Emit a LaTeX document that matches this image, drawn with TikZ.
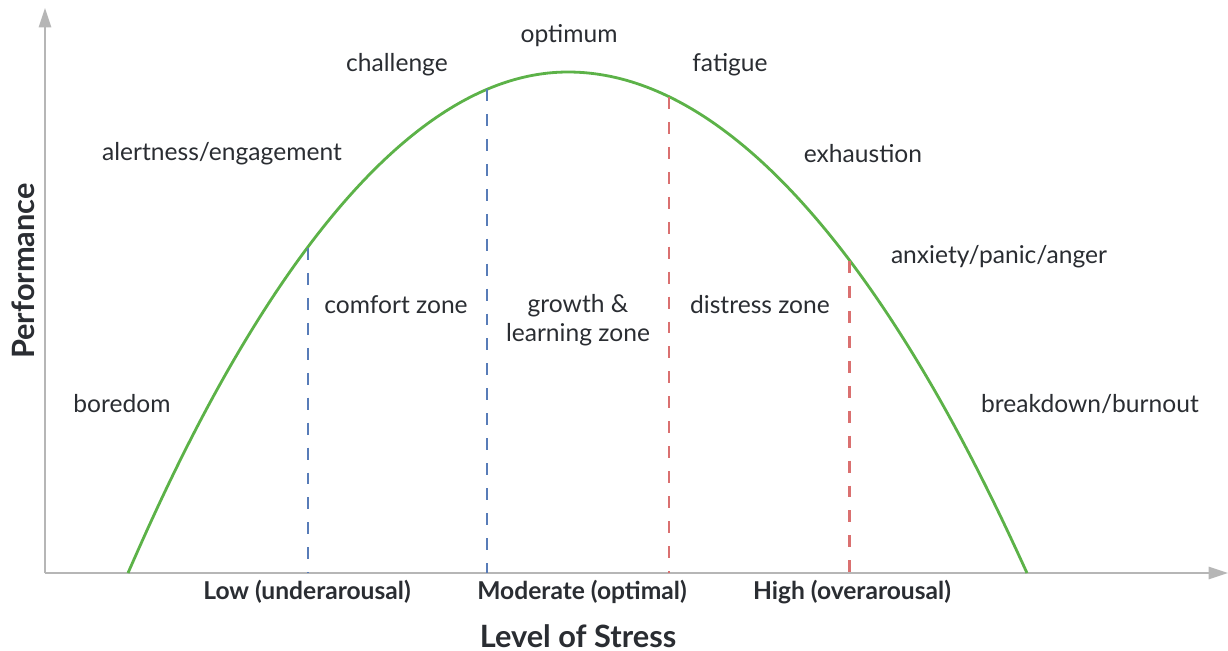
\documentclass[tikz,border=0pt]{standalone}
\usepackage{fontspec}
\setmainfont{Lato}
\usetikzlibrary{arrows.meta}
\definecolor{axisgray}{RGB}{182,182,182}
\definecolor{curvegreen}{RGB}{92,178,72}
\definecolor{lowblue}{RGB}{88,124,184}
\definecolor{highred}{RGB}{218,112,112}
\definecolor{inkdark}{RGB}{42,45,50}

\begin{document}
\begin{tikzpicture}[
x=0.02cm,y=-0.02cm,
axis/.style={
  draw=axisgray,
  line width=1.1pt,
  -{Triangle[length=11pt,width=7pt]}
  },
zoneline/.style={
  line width=1.7pt,
  dash pattern=on 6.8pt off 7.4pt
  },
lbl/.style={text=inkdark,font=\fontsize{14}{16.5}\selectfont,align=center},
ticklbl/.style={text=inkdark,font=\bfseries\fontsize{14}{16}\selectfont},
axislbl/.style={text=inkdark,font=\bfseries\fontsize{17.5}{20}\selectfont,inner sep=0pt}
]
\useasboundingbox (0,0) rectangle (1228,650);
% axes
\coordinate (origin) at (45,573);
\coordinate (ytip) at (45,8);
\coordinate (xtip) at (1228,573);
\draw[axis] (origin) -- (ytip);
\draw[axis] (origin) -- (xtip);
% curve
\coordinate (cstart) at (128,573);
\coordinate (cpeak) at (568,72);
\coordinate (cend) at (1027,573);
\draw[curvegreen,line width=1.6pt] (cstart) parabola bend (cpeak) (cend);
% zone borders
\foreach \Name/\X/\Y/\Col in {low/308/248/lowblue,mid/487/89/lowblue,
                              hot/669/97/highred,over/849/261/highred}{
  \coordinate (\Name top) at (\X,\Y);
  \coordinate (\Name bot) at (\X,573);
  \draw[zoneline,\Col] (\Name top) -- (\Name bot);
}
% labels on the curve
\node[lbl] (optimum) at (569,36) {optimum};
\node[lbl] (challenge) at (397,65) {challenge};
\node[lbl] (fatigue) at (730,65) {fatigue};
\node[lbl] (alert) at (222,154) {alertness/engagement};
\node[lbl] (exhaust) at (863,154) {exhaustion};
\node[lbl] (anxiety) at (999,257) {anxiety/panic/anger};
\node[lbl] (boredom) at (122,404) {boredom};
\node[lbl] (burnout) at (1090,404) {breakdown/burnout};
% zones
\node[lbl] (comfort) at (396,305) {comfort zone};
\node[lbl] (growth) at (578,320) {growth \&\\learning zone};
\node[lbl] (distress) at (760,305) {distress zone};
% axis labels
\node[ticklbl] (low) at (307,592) {Low (underarousal)};
\node[ticklbl] (moderate) at (582,592) {Moderate (optimal)};
\node[ticklbl] (high) at (852,592) {High (overarousal)};
\node[axislbl,anchor=base] (stress) at (578,647) {Level of Stress};
\node[axislbl,rotate=90] (perf) at (23,271) {Performance};
\end{tikzpicture}
\end{document}
